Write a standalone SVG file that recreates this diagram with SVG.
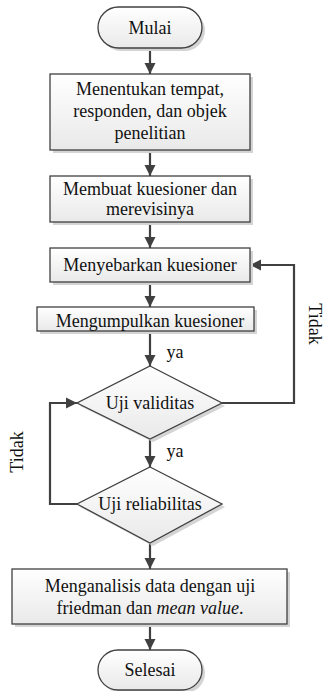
<svg xmlns="http://www.w3.org/2000/svg" width="325" height="691" viewBox="0 0 325 691">
<style>
.shape{fill:url(#g);stroke:#404040;stroke-width:1.3}
.shadow{fill:#d4d4d4;stroke:none}
text{font-family:'Liberation Serif','Times New Roman','DejaVu Serif',serif;font-size:18px;fill:#111;text-anchor:middle}
.c{fill:none;stroke:#404040;stroke-width:2.2;marker-end:url(#ah)}
</style>
<defs>
<linearGradient id="g" x1="0" y1="0" x2="0" y2="1">
<stop offset="0" stop-color="#ffffff"/>
<stop offset="1" stop-color="#e9e9e9"/>
</linearGradient>
<marker id="ah" markerUnits="userSpaceOnUse" markerWidth="12" markerHeight="12" refX="11" refY="6" orient="auto">
<path d="M0,0.5 L11,6 L0,11.5 z" fill="#404040"/>
</marker>
</defs>
<rect width="325" height="691" fill="#ffffff"/>
<g id="connectors">
<path class="c" d="M150,48 V74"/>
<path class="c" d="M150,150 V176"/>
<path class="c" d="M150,222 V248"/>
<path class="c" d="M150,282 V307"/>
<path class="c" d="M150,331 V366"/>
<path class="c" d="M150,439 V467"/>
<path class="c" d="M150,543 V569"/>
<path class="c" d="M150,624 V650"/>
<path class="c" d="M222,403 H294 V265 H250"/>
<path class="c" d="M77,504 H50 V403 H77"/>
<text x="175" y="358" font-family="Liberation Serif, serif">ya</text>
<text x="175" y="457" font-family="Liberation Serif, serif">ya</text>
<text transform="translate(309,324) rotate(90)" font-family="Liberation Serif, serif">Tidak</text>
<text transform="translate(23,452) rotate(-90)" font-family="Liberation Serif, serif">Tidak</text>
</g>
<g id="mulai">
<rect class="shadow" x="101" y="10" width="104" height="41" rx="20.5"/>
<rect class="shape" x="98" y="7" width="104" height="41" rx="20.5"/>
<text x="150" y="34" font-family="Liberation Serif, serif">Mulai</text>
</g>
<g id="box1">
<rect class="shadow" x="53" y="77" width="200" height="76"/>
<rect class="shape" x="50" y="74" width="200" height="76"/>
<text x="150" y="95" font-family="Liberation Serif, serif">Menentukan tempat,</text>
<text x="150" y="117" font-family="Liberation Serif, serif">responden, dan objek</text>
<text x="150" y="139" font-family="Liberation Serif, serif">penelitian</text>
</g>
<g id="box2">
<rect class="shadow" x="53" y="179" width="200" height="46"/>
<rect class="shape" x="50" y="176" width="200" height="46"/>
<text x="150" y="195" font-family="Liberation Serif, serif">Membuat kuesioner dan</text>
<text x="150" y="215" font-family="Liberation Serif, serif">merevisinya</text>
</g>
<g id="box3">
<rect class="shadow" x="53" y="251" width="200" height="34"/>
<rect class="shape" x="50" y="248" width="200" height="34"/>
<text x="150" y="271" font-family="Liberation Serif, serif">Menyebarkan kuesioner</text>
</g>
<g id="box4">
<rect class="shadow" x="40" y="310" width="217" height="24"/>
<rect class="shape" x="37" y="307" width="217" height="24"/>
<text x="150" y="327" font-family="Liberation Serif, serif">Mengumpulkan kuesioner</text>
</g>
<g id="diamond1">
<polygon class="shadow" points="153,369 225,406 153,442 80,406"/>
<polygon class="shape" points="150,366 222,403 150,439 77,403"/>
<text x="150" y="409" font-family="Liberation Serif, serif">Uji validitas</text>
</g>
<g id="diamond2">
<polygon class="shadow" points="153,470 225,507 153,546 80,507"/>
<polygon class="shape" points="150,467 222,504 150,543 77,504"/>
<text x="150" y="510" font-family="Liberation Serif, serif">Uji reliabilitas</text>
</g>
<g id="box5">
<rect class="shadow" x="15" y="572" width="275" height="55"/>
<rect class="shape" x="12" y="569" width="275" height="55"/>
<text x="150" y="592" font-family="Liberation Serif, serif">Menganalisis data dengan uji</text>
<text x="150" y="614" font-family="Liberation Serif, serif">friedman dan <tspan font-style="italic">mean value</tspan>.</text>
</g>
<g id="selesai">
<rect class="shadow" x="101" y="653" width="104" height="40" rx="20"/>
<rect class="shape" x="98" y="650" width="104" height="40" rx="20"/>
<text x="150" y="676" font-family="Liberation Serif, serif">Selesai</text>
</g>
</svg>
